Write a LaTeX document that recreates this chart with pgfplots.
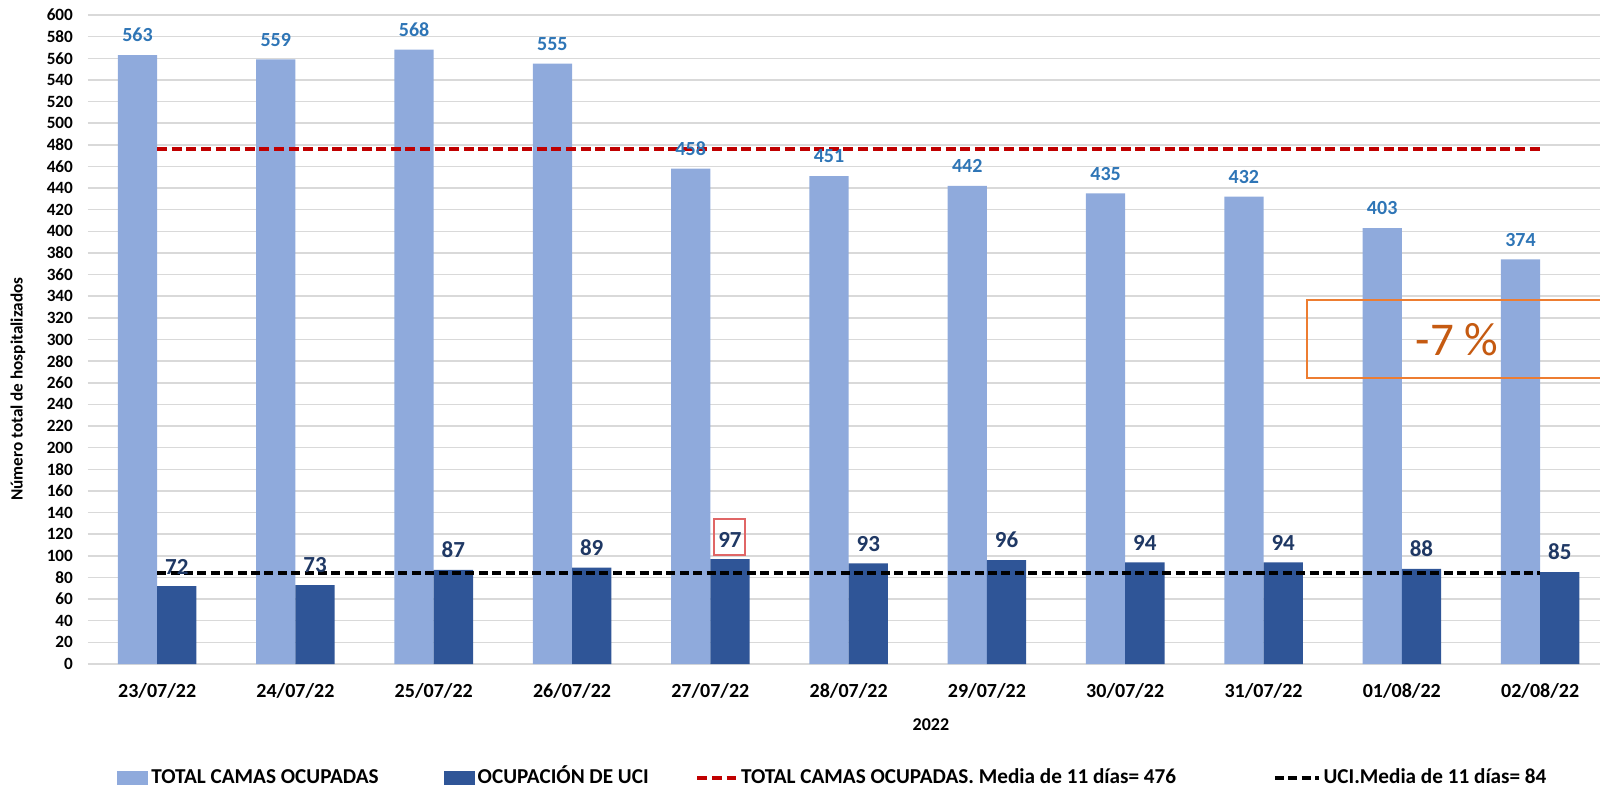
\documentclass[border=0pt]{standalone}
\usepackage{fontspec}
\setmainfont{Carlito}
\usepackage{pgfplots}
\pgfplotsset{compat=1.18}
\definecolor{lightbar}{HTML}{8FAADC}
\definecolor{darkbar}{HTML}{2F5597}
\definecolor{lightlab}{HTML}{2E75B6}
\definecolor{darklab}{HTML}{1F3864}
\definecolor{gridc}{HTML}{D9D9D9}
\definecolor{redline}{HTML}{C00000}
\definecolor{orangebox}{HTML}{ED7D31}
\definecolor{orangetext}{HTML}{C55A11}
\definecolor{redbox}{HTML}{E06666}
\pgfplotsset{
  barlegend/.style={legend image code/.code={\fill[##1] (0pt,-3.5pt) rectangle (15.5pt,3.5pt);}},
  linelegend/.style={legend image code/.code={\draw[##1] (0pt,0pt) -- (#1,0pt);}},
}
\begin{document}
\begin{tikzpicture}
\begin{axis}[
  at={(0,0)}, anchor=south west,
  scale only axis, width=756pt, height=324.5pt,
  xmin=-0.5, xmax=10.433, ymin=0, ymax=600,
  ytick={0,20,...,600},
  xtick={0,...,10},
  xticklabels={23/07/22,24/07/22,25/07/22,26/07/22,27/07/22,28/07/22,29/07/22,30/07/22,31/07/22,01/08/22,02/08/22},
  ymajorgrids, grid style={gridc, line width=0.75pt},
  axis line style={draw=none},
  major tick length=0pt,
  /pgf/number format/assume math mode=true,
  yticklabel style={font=\fontsize{8.6}{10}\selectfont\bfseries, xshift=-4pt},
  xticklabel style={font=\fontsize{10}{12}\selectfont\bfseries, yshift=-6pt},
  ybar=0pt, bar width=0.284,
  clip=false,
  legend columns=4,
  legend cell align=left,
  legend style={at={(rel axis cs:0,0)}, anchor=west, xshift=14.5pt, yshift=-57pt,
    draw=none, fill=none, inner sep=0pt,
    font=\fontsize{10.6}{12}\selectfont\bfseries,
    nodes={inner xsep=1.5pt, inner ysep=0pt, text height=7.6pt, text depth=2pt, anchor=west},
    column sep=0pt},
]
\addplot[fill=lightbar, draw=none, bar shift=-0.142, barlegend,
  nodes near coords,
  nodes near coords style={font=\fontsize{10}{11}\selectfont\bfseries, text=lightlab, yshift=3pt}]
  coordinates {(0,563)(1,559)(2,568)(3,555)(4,458)(5,451)(6,442)(7,435)(8,432)(9,403)(10,374)};
\addplot[fill=darkbar, draw=none, bar shift=0.142, barlegend,
  nodes near coords,
  nodes near coords style={font=\fontsize{11.5}{13}\selectfont\bfseries, text=darklab, yshift=2.5pt}]
  coordinates {(0,72)(1,73)(2,87)(3,89)(4,97)(5,93)(6,96)(7,94)(8,94)(9,88)(10,85)};
\addplot[sharp plot, redline, line width=1.7pt, dash pattern=on 5pt off 2.3pt, linelegend=19.5pt]
  coordinates {(0,476)(10,476)};
\addplot[sharp plot, black, line width=1.7pt, dash pattern=on 4.5pt off 2.2pt, linelegend=22pt]
  coordinates {(0,84)(10,84)};
\legend{{TOTAL CAMAS OCUPADAS\hspace*{31pt}},{OCUPACIÓN DE UCI\hspace*{22pt}},{TOTAL CAMAS OCUPADAS. Media de 11 días= 476\hspace*{47pt}},{UCI.Media de 11 días= 84}}
\draw[redbox, line width=0.6pt] (axis cs:4.026,100.8) rectangle (axis cs:4.25,134);
\draw[orangebox, line width=1pt] (axis cs:8.314,264.4) rectangle (axis cs:11.5,336.5);
\node[text=orangetext, font=\fontsize{23.5}{26}\selectfont] at (axis cs:9.40,299.5) {-7 \%};
\node[rotate=90, font=\fontsize{8.6}{10}\selectfont\bfseries] at (axis cs:-1.006,254) {Número total de hospitalizados};
\node[font=\fontsize{9}{11}\selectfont\bfseries] at ([yshift=-30.5pt]rel axis cs:0.5575,0) {2022};
\end{axis}
\pgfresetboundingbox
\useasboundingbox (-44pt,-62.5pt) rectangle (756pt,332pt);
\end{tikzpicture}
\end{document}
